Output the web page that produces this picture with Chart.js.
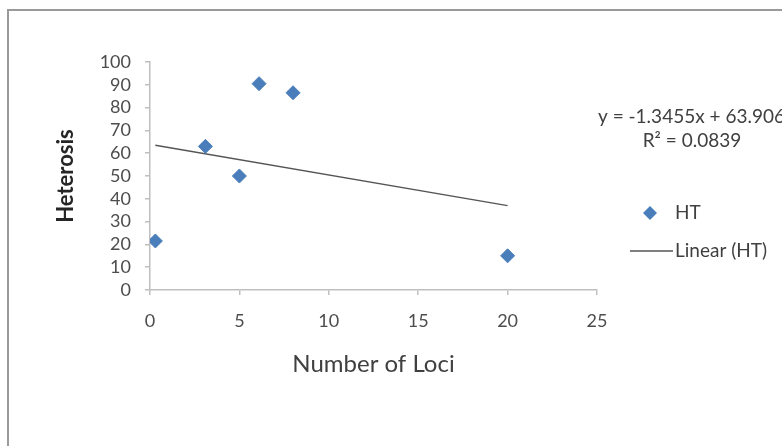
<!DOCTYPE html>
<html>
<head>
<meta charset="utf-8">
<title>Heterosis vs Number of Loci</title>
<script src="https://cdn.jsdelivr.net/npm/chart.js@4/dist/chart.umd.min.js"></script>
<style>
    html, body { margin: 0; padding: 0; background: #ffffff; }
    #wrap { width: 782px; height: 446px; }
</style>
</head>
<body>
<div id="wrap"><canvas id="lociChart" width="782" height="446"></canvas></div>
<script>
// Heterosis (HT) against number of loci
const lociCounts = [0.3, 3.1, 5, 6.1, 8, 20];
const heterosisValues = [21.5, 63, 50, 90.5, 86.5, 15];

// Linear trend fitted to HT
const trendSlope = -1.3455;
const trendIntercept = 63.906;
const trendRSquared = 0.0839;

const xTickValues = [0, 5, 10, 15, 20, 25];
const yTickValues = [0, 10, 20, 30, 40, 50, 60, 70, 80, 90, 100];

const FONT = 'Lato, "Open Sans", sans-serif';
const MARKER_COLOR = '#4a7ebb';
const TREND_COLOR = '#555555';
const AXIS_COLOR = '#bfbfbf';
const TEXT_COLOR = '#4d4d4d';

const htPoints = lociCounts.map((x, i) => ({ x: x, y: heterosisValues[i] }));

const trendStart = Math.min(...lociCounts);
const trendEnd = Math.max(...lociCounts);
const trendPoints = [trendStart, trendEnd].map(x => ({ x: x, y: trendSlope * x + trendIntercept }));

// Outer frame, equation label and the legend on the right
const decorPlugin = {
    id: 'decor',
    beforeDraw(chart) {
        const ctx = chart.ctx;
        ctx.save();
        ctx.fillStyle = '#ffffff';
        ctx.fillRect(0, 0, chart.width, chart.height);
        ctx.strokeStyle = '#9a9a9a';
        ctx.lineWidth = 2;
        ctx.beginPath();
        ctx.moveTo(8, chart.height);
        ctx.lineTo(8, 10);
        ctx.lineTo(chart.width, 10);
        ctx.stroke();
        ctx.restore();
    },
    afterDraw(chart) {
        const ctx = chart.ctx;
        ctx.save();
        ctx.fillStyle = '#404040';
        ctx.font = '19px ' + FONT;
        ctx.textBaseline = 'middle';
        ctx.textAlign = 'left';
        const sign = trendIntercept >= 0 ? ' + ' : ' - ';
        ctx.fillText('y = ' + trendSlope + 'x' + sign + Math.abs(trendIntercept), 598, 117);
        ctx.textAlign = 'center';
        ctx.fillText('R\u00b2 = ' + trendRSquared, 692, 141);

        // legend
        const items = chart.data.datasets;
        ctx.textAlign = 'left';
        ctx.fillStyle = MARKER_COLOR;
        const dx = 650, dy = 213, r = 7;
        ctx.beginPath();
        ctx.moveTo(dx, dy - r);
        ctx.lineTo(dx + r, dy);
        ctx.lineTo(dx, dy + r);
        ctx.lineTo(dx - r, dy);
        ctx.closePath();
        ctx.fill();
        ctx.fillStyle = '#404040';
        ctx.fillText(items[0].label, 675, 213);

        ctx.strokeStyle = TREND_COLOR;
        ctx.lineWidth = 1.4;
        ctx.beginPath();
        ctx.moveTo(630, 251);
        ctx.lineTo(673, 251);
        ctx.stroke();
        ctx.fillText(items[1].label, 675, 251);
        ctx.restore();
    }
};

new Chart(document.getElementById('lociChart'), {
    type: 'scatter',
    data: {
        datasets: [
            {
                label: 'HT',
                data: htPoints,
                pointStyle: 'rectRot',
                pointRadius: 7,
                pointBackgroundColor: MARKER_COLOR,
                pointBorderColor: MARKER_COLOR,
                pointBorderWidth: 1
            },
            {
                label: 'Linear (HT)',
                type: 'line',
                data: trendPoints,
                borderColor: TREND_COLOR,
                borderWidth: 1.4,
                pointRadius: 0,
                fill: false
            }
        ]
    },
    options: {
        responsive: false,
        animation: false,
        devicePixelRatio: 1,
        layout: { padding: { top: 62, right: 185, left: 0, bottom: 0 } },
        plugins: {
            legend: { display: false },
            tooltip: { enabled: false }
        },
        scales: {
            x: {
                type: 'linear',
                min: 0,
                max: 25,
                afterBuildTicks: scale => { scale.ticks = xTickValues.map(v => ({ value: v })); },
                afterFit: scale => { scale.height = 156; },
                ticks: { color: TEXT_COLOR, font: { family: FONT, size: 18 }, padding: 15, autoSkip: false, maxRotation: 0 },
                grid: { drawOnChartArea: false, drawTicks: true, tickLength: 5, color: AXIS_COLOR, lineWidth: 1.5 },
                border: { color: AXIS_COLOR, width: 1.5 },
                title: {
                    display: true,
                    text: 'Number of Loci',
                    color: '#404040',
                    font: { family: FONT, size: 24 },
                    padding: { top: 0, bottom: 67 }
                }
            },
            y: {
                min: 0,
                max: 100,
                afterBuildTicks: scale => { scale.ticks = yTickValues.map(v => ({ value: v })); },
                afterFit: scale => { scale.width = 150; },
                ticks: { color: TEXT_COLOR, font: { family: FONT, size: 18 }, padding: 14, autoSkip: false },
                grid: { drawOnChartArea: false, drawTicks: true, tickLength: 5, color: AXIS_COLOR, lineWidth: 1.5 },
                border: { color: AXIS_COLOR, width: 1.5 },
                title: {
                    display: true,
                    text: 'Heterosis',
                    color: '#262626',
                    font: { family: FONT, size: 22, weight: 'bold' },
                    padding: { top: 53, bottom: 0 }
                }
            }
        }
    },
    plugins: [decorPlugin]
});
</script>
</body>
</html>
